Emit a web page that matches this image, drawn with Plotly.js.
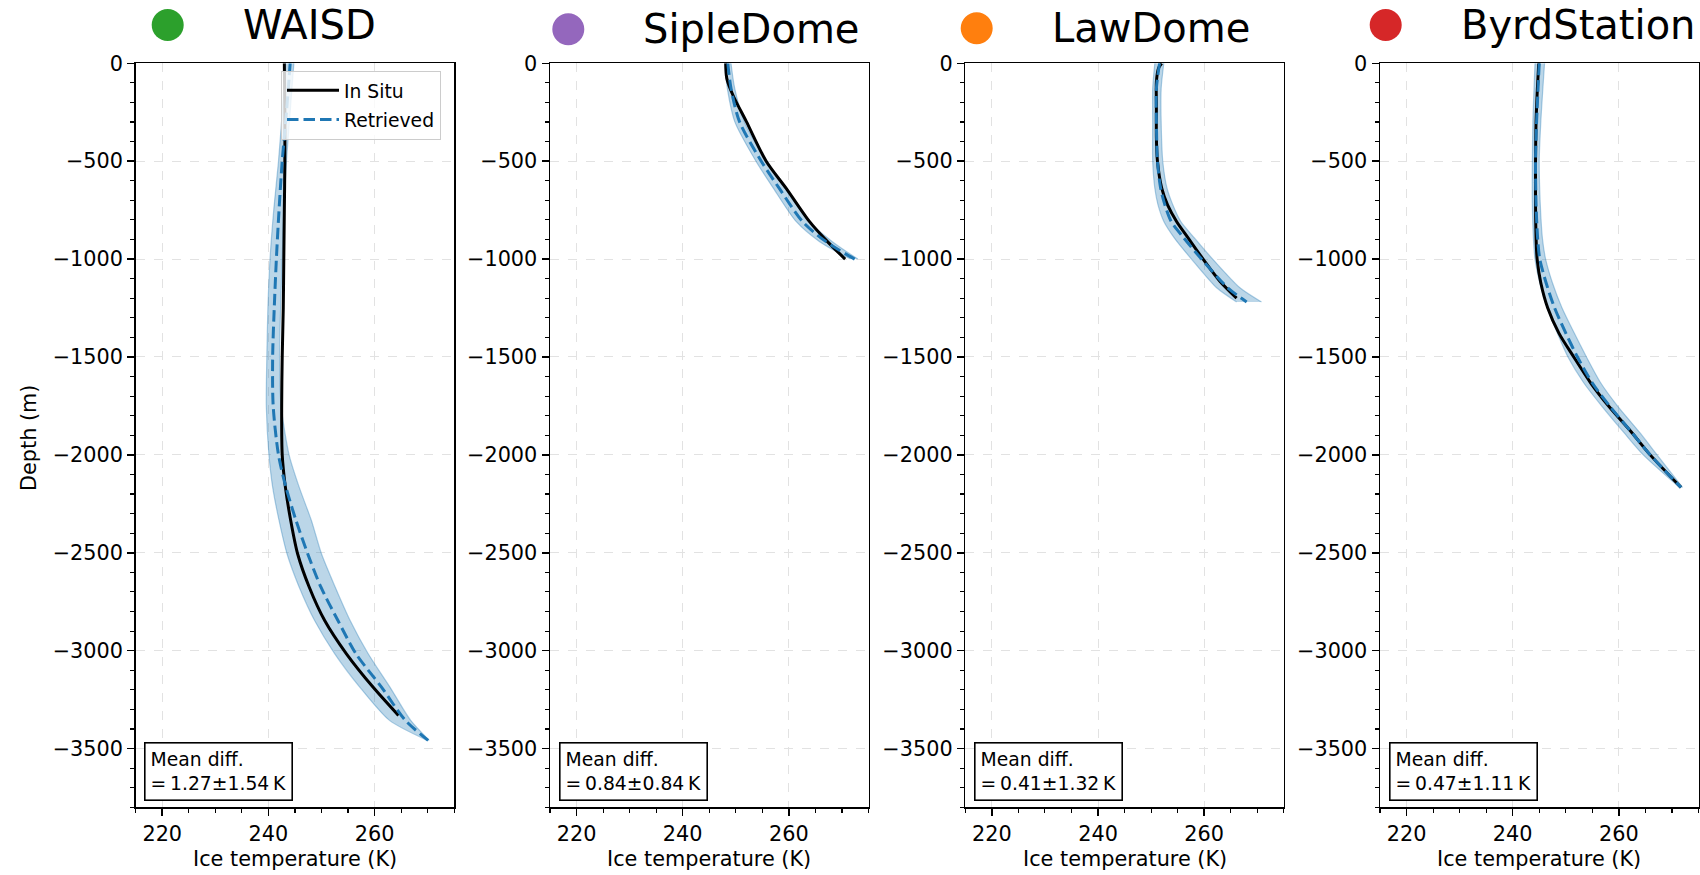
<!DOCTYPE html>
<html><head><meta charset="utf-8">
<script src="https://cdn.plot.ly/plotly-3.0.1.min.js"></script>
<style>html,body{margin:0;padding:0;background:#fff}#chart{width:1700px;height:875px}</style>
</head><body><div id="chart"></div>
<script>
// ---------- DATA ----------
const sites = ["WAISD", "SipleDome", "LawDome", "ByrdStation"];
const siteColors = ["#2ca02c", "#9467bd", "#ff7f0e", "#d62728"];
const meanDiff = ["1.27", "0.84", "0.41", "0.47"];
const stdDiff = ["1.54", "0.84", "1.32", "1.11"];
const xTickVals = [220, 240, 260];

// WAISD
const waisdInSituDepth = [0, -250, -500, -750, -1000, -1250, -1500, -1750, -2000, -2165, -2335, -2505, -2676, -2846, -3016, -3186, -3331];
const waisdInSituT = [243.0, 243.1, 243.1, 243.0, 242.9, 242.8, 242.6, 242.5, 242.6, 243.2, 244.2, 245.5, 247.7, 250.6, 254.7, 259.7, 264.5];
const waisdRetDepth = [0, -250, -500, -750, -1000, -1250, -1500, -1750, -2000, -2165, -2335, -2505, -2676, -2846, -3016, -3186, -3356, -3458];
const waisdRetT = [244.1, 243.4, 242.6, 242.0, 241.5, 241.1, 240.8, 240.9, 241.9, 243.3, 245.2, 247.4, 249.9, 253.1, 256.5, 261.3, 265.8, 270.1];
const waisdBandLo = [243.2, 242.6, 241.9, 241.0, 240.3, 239.9, 239.7, 239.6, 240.1, 240.8, 242.0, 243.5, 245.8, 248.7, 252.5, 257.2, 262.8, 269.9];
const waisdBandHi = [244.8, 244.1, 243.4, 242.9, 242.6, 242.3, 242.1, 242.4, 243.9, 245.8, 248.1, 250.0, 252.6, 255.4, 258.8, 262.9, 266.8, 270.3];

// SipleDome
const sipleInSituDepth = [0, -77, -162, -298, -499, -639, -809, -903, -1000];
const sipleInSituT = [248.1, 248.3, 249.45, 252.0, 255.7, 259.5, 263.9, 267.0, 270.6];
const sipleRetDepth = [0, -128, -298, -500, -639, -809, -911, -1000];
const sipleRetT = [248.5, 249.1, 250.7, 254.8, 258.2, 262.6, 267.0, 272.4];
const sipleBandLo = [247.9, 248.4, 249.8, 253.8, 257.1, 261.4, 265.8, 271.6];
const sipleBandHi = [249.1, 249.8, 251.6, 255.8, 259.3, 263.8, 268.2, 273.0];

// LawDome
const lawInSituDepth = [0, -25, -94, -213, -383, -500, -638, -723, -808, -893, -1000, -1114, -1199];
const lawInSituT = [252.0, 251.4, 251.0, 251.0, 251.0, 251.2, 252.0, 253.1, 254.8, 257.0, 259.8, 263.0, 266.1];
const lawRetDepth = [0, -128, -300, -500, -638, -723, -808, -893, -1000, -1148, -1219];
const lawRetT = [251.6, 251.0, 251.0, 251.2, 251.8, 252.6, 253.8, 256.2, 259.5, 264.5, 268.0];
const lawBandLo = [250.7, 250.3, 250.3, 250.3, 250.7, 251.3, 252.4, 254.4, 257.6, 262.4, 266.1];
const lawBandHi = [252.4, 251.9, 251.9, 252.2, 253.0, 254.1, 255.6, 258.2, 261.6, 266.8, 270.8];

// ByrdStation
const byrdInSituDepth = [0, -128, -298, -502, -723, -894, -1000, -1122, -1250, -1378, -1500, -1633, -1752, -1888, -2000, -2166];
const byrdInSituT = [244.9, 244.65, 244.4, 244.3, 244.3, 244.4, 244.6, 245.3, 246.6, 248.7, 251.5, 254.7, 258.1, 262.5, 265.9, 271.7];
const byrdRetDepth = [0, -298, -502, -723, -894, -1000, -1122, -1250, -1378, -1500, -1633, -1752, -1888, -2000, -2166];
const byrdRetT = [245.0, 244.5, 244.3, 244.4, 244.7, 245.1, 246.3, 247.9, 250.0, 252.2, 255.0, 258.3, 262.5, 265.9, 271.7];
const byrdBandLo = [244.2, 243.8, 243.7, 243.7, 243.9, 244.2, 245.1, 246.5, 248.4, 250.4, 253.4, 256.8, 261.0, 264.6, 271.4];
const byrdBandHi = [246.0, 245.3, 245.0, 245.2, 245.6, 246.2, 247.5, 249.3, 251.6, 253.9, 256.6, 259.8, 264.0, 267.2, 272.0];

const inSituDepths = [waisdInSituDepth, sipleInSituDepth, lawInSituDepth, byrdInSituDepth];
const inSituTemps = [waisdInSituT, sipleInSituT, lawInSituT, byrdInSituT];
const retDepths = [waisdRetDepth, sipleRetDepth, lawRetDepth, byrdRetDepth];
const retTemps = [waisdRetT, sipleRetT, lawRetT, byrdRetT];
const bandLows = [waisdBandLo, sipleBandLo, lawBandLo, byrdBandLo];
const bandHighs = [waisdBandHi, sipleBandHi, lawBandHi, byrdBandHi];

// ---------- LAYOUT GEOMETRY (pixels) ----------
const W = 1700, H = 875;
const FONT = "DejaVu Sans, Liberation Sans, sans-serif";
const panelLeft = [135.7, 550, 965.3, 1380];
const panelWidth = 318.5;
const plotTop = 63.3, plotBottom = 807.3;
const titleCircle = [[167.7, 25], [568.3, 29.3], [976.7, 28.3], [1385.7, 25]];

const px = v => v / W;
const py = v => 1 - v / H;

const traces = [];
const layout = {
  width: W, height: H,
  margin: {l: 0, r: 0, t: 0, b: 0},
  paper_bgcolor: "#fff", plot_bgcolor: "#fff",
  font: {family: FONT, color: "#000", size: 20.8},
  showlegend: true,
  legend: {
    x: px(281), y: py(70.5), xanchor: "left", yanchor: "top",
    bgcolor: "rgba(255,255,255,0.8)", bordercolor: "#cccccc", borderwidth: 1,
    font: {family: FONT, size: 18.75, color: "#000"},
    tracegroupgap: 2, itemwidth: 52
  },
  shapes: [], annotations: []
};

const bandFill = "rgba(31,119,180,0.3)";
const bandEdge = "rgba(31,119,180,0.35)";

for (let i = 0; i < 4; i++) {
  const sfx = i === 0 ? "" : String(i + 1);
  const xa = "x" + sfx, ya = "y" + sfx;

  // uncertainty band: lower edge, then upper edge filled back to it
  traces.push({
    type: "scatter", mode: "lines", x: bandLows[i], y: retDepths[i], xaxis: xa, yaxis: ya,
    line: {color: bandEdge, width: 1.2, shape: "spline", smoothing: 0.7},
    showlegend: false, hoverinfo: "skip"
  });
  traces.push({
    type: "scatter", mode: "lines", x: bandHighs[i], y: retDepths[i], xaxis: xa, yaxis: ya,
    fill: "tonextx", fillcolor: bandFill,
    line: {color: bandEdge, width: 1.2, shape: "spline", smoothing: 0.7},
    showlegend: false, hoverinfo: "skip"
  });
  traces.push({
    type: "scatter", mode: "lines", name: "In Situ", legendgroup: "a",
    x: inSituTemps[i], y: inSituDepths[i], xaxis: xa, yaxis: ya,
    line: {color: "#000000", width: 3, shape: "spline", smoothing: 0.8},
    showlegend: i === 0
  });
  traces.push({
    type: "scatter", mode: "lines", name: "Retrieved", legendgroup: "b",
    x: retTemps[i], y: retDepths[i], xaxis: xa, yaxis: ya,
    line: {color: "#1f77b4", width: 3, dash: "11.5px,5px", shape: "spline", smoothing: 0.8},
    showlegend: i === 0
  });

  const left = panelLeft[i];
  layout["xaxis" + sfx] = {
    domain: [px(left), px(left + panelWidth)], anchor: ya,
    range: [215, 275], tickmode: "array", tickvals: xTickVals,
    ticks: "outside", ticklen: 7, tickwidth: 1.5, tickcolor: "#000",
    minor: {dtick: 5, tick0: 215, ticks: "outside", ticklen: 4, tickwidth: 1.1, tickcolor: "#000", showgrid: false},
    showline: true, linecolor: "#000", linewidth: 1.5, mirror: true,
    showgrid: true, gridcolor: "#e2e2e2", griddash: "dash", gridwidth: 1,
    zeroline: false, tickfont: {family: FONT, size: 20.8, color: "#000"},
    fixedrange: true
  };
  layout["yaxis" + sfx] = {
    domain: [py(plotBottom), py(plotTop)], anchor: xa,
    range: [-3800, 0], tickmode: "linear", tick0: 0, dtick: 500,
    ticks: "outside", ticklen: 7, tickwidth: 1.5, tickcolor: "#000",
    minor: {dtick: 100, tick0: 0, ticks: "outside", ticklen: 4, tickwidth: 1.1, tickcolor: "#000", showgrid: false},
    showline: true, linecolor: "#000", linewidth: 1.5, mirror: true,
    showgrid: true, gridcolor: "#e2e2e2", griddash: "dash", gridwidth: 1,
    zeroline: false, tickfont: {family: FONT, size: 20.8, color: "#000"},
    fixedrange: true
  };

  // title marker + name
  const [cx, cy] = titleCircle[i];
  layout.shapes.push({
    type: "circle", xref: "paper", yref: "paper",
    x0: px(cx - 16), x1: px(cx + 16), y0: py(cy + 16), y1: py(cy - 16),
    fillcolor: siteColors[i], line: {width: 0}
  });
  layout.annotations.push({
    xref: "paper", yref: "paper", x: px(cx + 73), y: py(cy),
    xanchor: "left", yanchor: "middle", showarrow: false,
    text: sites[i], font: {family: FONT, size: 40, color: "#000"}
  });

  // mean diff box
  layout.annotations.push({
    xref: "paper", yref: "paper", x: px(left + 8.6), y: py(801),
    xanchor: "left", yanchor: "bottom", showarrow: false, align: "left",
    text: "Mean diff.<br>=\u2009" + meanDiff[i] + "±" + stdDiff[i] + "\u2009K",
    font: {family: FONT, size: 18.75, color: "#000"},
    bgcolor: "#fff", bordercolor: "#000", borderwidth: 1.6, borderpad: 5
  });

  // x axis title
  layout.annotations.push({
    xref: "paper", yref: "paper", x: px(left + panelWidth / 2), y: py(859),
    xanchor: "center", yanchor: "middle", showarrow: false,
    text: "Ice temperature (K)", font: {family: FONT, size: 20.8, color: "#000"}
  });
}

layout.annotations.push({
  xref: "paper", yref: "paper", x: px(29), y: py(438),
  xanchor: "center", yanchor: "middle", showarrow: false, textangle: -90,
  text: "Depth (m)", font: {family: FONT, size: 20.8, color: "#000"}
});

Plotly.newPlot("chart", traces, layout, {displayModeBar: false, staticPlot: true});
</script>
</body></html>
